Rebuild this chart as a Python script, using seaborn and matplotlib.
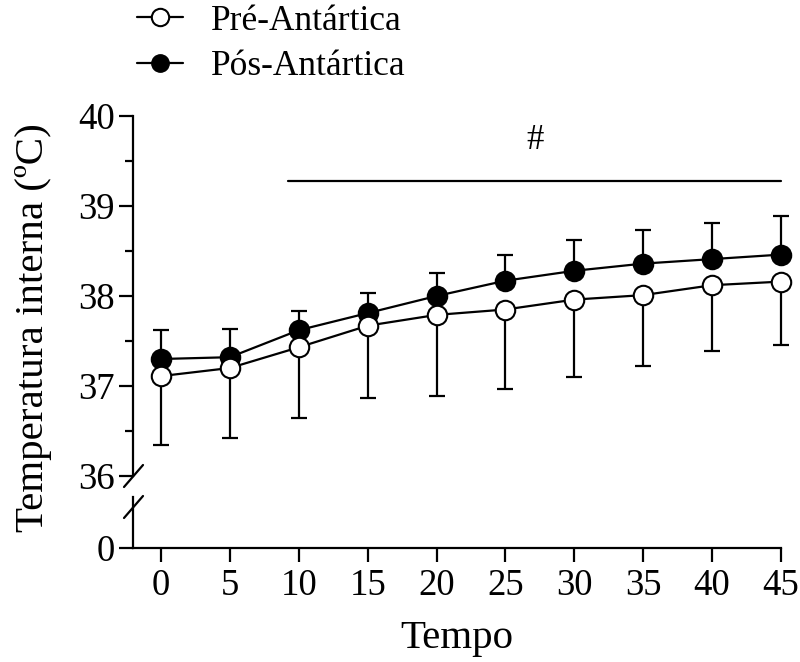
import matplotlib
matplotlib.use("Agg")
import matplotlib.pyplot as plt
import seaborn as sns
import pandas as pd
import numpy as np
from matplotlib.lines import Line2D

tempo = [0, 5, 10, 15, 20, 25, 30, 35, 40, 45]
pre_mean = [37.11, 37.20, 37.43, 37.67, 37.79, 37.85, 37.96, 38.01, 38.12, 38.16]
pre_lower = [36.34, 36.42, 36.64, 36.87, 36.89, 36.97, 37.10, 37.22, 37.39, 37.45]
pos_mean = [37.30, 37.32, 37.62, 37.81, 38.00, 38.17, 38.28, 38.36, 38.41, 38.46]
pos_upper = [37.62, 37.63, 37.83, 38.03, 38.26, 38.46, 38.62, 38.73, 38.81, 38.89]
xticks = [0, 5, 10, 15, 20, 25, 30, 35, 40, 45]
yticks_top = [36, 37, 38, 39, 40]
sig_start, sig_end, sig_y = 9.24, 45, 39.28

sns.set_theme(style="ticks")
plt.rcParams['font.family'] = ['Liberation Serif', 'DejaVu Serif']
plt.rcParams['axes.linewidth'] = 1.6
for k in ['text.color', 'axes.labelcolor', 'xtick.color', 'ytick.color', 'axes.edgecolor']:
    plt.rcParams[k] = 'black'

fig = plt.figure(figsize=(8, 6.62), dpi=100)
L, W = 133/800, (781-133)/800
ax = fig.add_axes([L, 1-476/662, W, (476-116)/662])
axb = fig.add_axes([L, 1-548/662, W, (548-497)/662], sharex=ax)

df = pd.DataFrame({
    "Tempo": tempo * 2,
    "T": pre_mean + pos_mean,
    "Grupo": ["Pré-Antártica"] * len(tempo) + ["Pós-Antártica"] * len(tempo),
})

pre_err = np.array(pre_mean) - np.array(pre_lower)
pos_err = np.array(pos_upper) - np.array(pos_mean)
ax.errorbar(tempo, pre_mean, yerr=[pre_err, np.zeros_like(pre_err)], fmt='none',
            ecolor='black', elinewidth=1.6, capsize=6, capthick=1.6, zorder=2, clip_on=False)
ax.errorbar(tempo, pos_mean, yerr=[np.zeros_like(pos_err), pos_err], fmt='none',
            ecolor='black', elinewidth=1.6, capsize=6, capthick=1.6, zorder=2, clip_on=False)

sns.lineplot(data=df[df.Grupo == "Pós-Antártica"], x="Tempo", y="T", ax=ax, color='black',
             marker='o', markersize=14, markerfacecolor='black', markeredgecolor='black',
             markeredgewidth=1.5, linewidth=1.6, legend=False, zorder=3, clip_on=False)
sns.lineplot(data=df[df.Grupo == "Pré-Antártica"], x="Tempo", y="T", ax=ax, color='black',
             marker='o', markersize=14, markerfacecolor='white', markeredgecolor='black',
             markeredgewidth=1.5, linewidth=1.6, legend=False, zorder=4, clip_on=False)

ax.set_ylim(36, 40)
ax.set_xlim(-2.03, 45)
ax.set_yticks(yticks_top)
ax.set_yticks([36.5, 37.5, 38.5, 39.5], minor=True)
ax.tick_params(axis='y', which='major', length=10, width=1.6, labelsize=26.5, direction='out', pad=3)
ax.tick_params(axis='y', which='minor', length=6, width=1.6, direction='out')
ax.tick_params(axis='x', which='both', bottom=False, labelbottom=False)
for s in ['top', 'right', 'bottom']:
    ax.spines[s].set_visible(False)
ax.set_xlabel("")
ax.set_ylabel("")

ax.plot([sig_start, sig_end], [sig_y, sig_y], color='black', lw=1.6, clip_on=False)
ax.text((sig_start + sig_end) / 2, 39.73, "#", ha='center', va='center', fontsize=25)

axb.set_ylim(0, 1)
axb.set_yticks([0])
axb.set_xticks(xticks)
axb.set_xticklabels([str(t) for t in xticks])
axb.tick_params(axis='y', length=10, width=1.6, labelsize=26.5, pad=3)
axb.tick_params(axis='x', length=10, width=1.6, labelsize=26.5, pad=5)
for s in ['top', 'right']:
    axb.spines[s].set_visible(False)
axb.set_xlabel("Tempo", fontsize=29.5, labelpad=12)
axb.set_ylabel("")

# break marks
kw = dict(color='black', lw=1.6, transform=fig.transFigure, clip_on=False)
fig.add_artist(Line2D([124/800, 143/800], [1-487/662, 1-465/662], **kw))
fig.add_artist(Line2D([124/800, 143/800], [1-518/662, 1-496/662], **kw))

fig.text(34/800, 1-328/662, "Temperatura interna (ºC)", rotation=90, ha='center', va='center', fontsize=29.5)

h_pre = Line2D([], [], color='black', marker='o', markersize=12.5, markerfacecolor='white',
               markeredgecolor='black', markeredgewidth=1.5, lw=1.6)
h_pos = Line2D([], [], color='black', marker='o', markersize=12.5, markerfacecolor='black',
               markeredgecolor='black', lw=1.6)
fig.legend([h_pre, h_pos], ["Pré-Antártica", "Pós-Antártica"], loc='upper left',
           bbox_to_anchor=(133/800, 1 - 1/662), frameon=False, fontsize=25.5, handlelength=1.3,
           handletextpad=0.8, labelspacing=0.35, borderaxespad=0.0, borderpad=0.1)

fig.savefig("out.png", dpi=100)
